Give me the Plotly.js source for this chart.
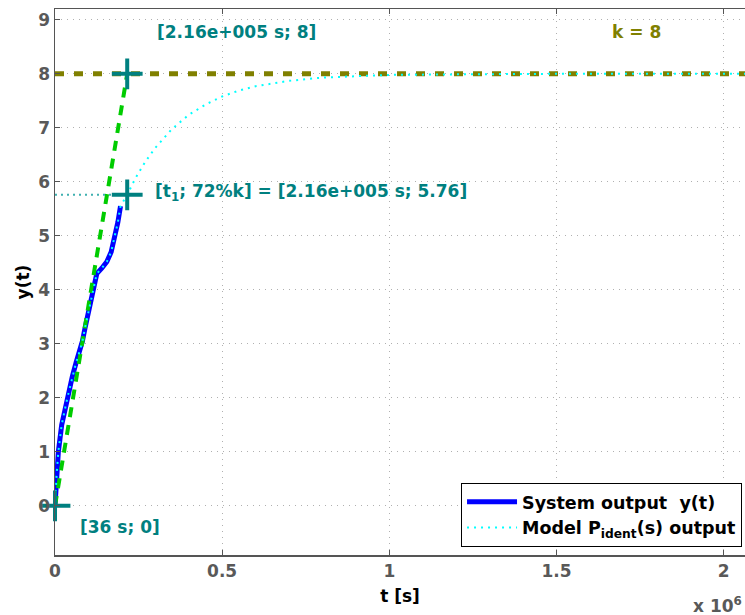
<!DOCTYPE html>
<html>
<head>
<meta charset="utf-8">
<script src="https://cdn.plot.ly/plotly-3.0.1.min.js"></script>
<style>html,body{margin:0;padding:0;background:#fff;}#plot{width:745px;height:615px;}</style>
</head>
<body>
<div id="plot"></div>
<script>
// Measured system output
const sysT = [0, 2000, 5000, 10000, 20000, 37000, 52000, 63000, 73000, 82000, 90000, 100000, 110000, 118000, 125000, 140000, 155000, 168000, 178000, 188000, 196000];
const sysY = [0, 0.3, 0.6, 1.0, 1.5, 2.0, 2.4, 2.65, 2.85, 3.05, 3.3, 3.6, 3.9, 4.15, 4.3, 4.4, 4.52, 4.7, 4.95, 5.25, 5.55];
// Identified model output
const modelT = [0, 2000, 5000, 10000, 20000, 37000, 52000, 63000, 73000, 82000, 90000, 100000, 110000, 118000, 125000, 140000, 155000, 168000, 178000, 188000, 196000, 216000, 240000, 270000, 300000, 350000, 400000, 450000, 500000, 550000, 600000, 700000, 800000, 900000, 1000000, 1200000, 1500000, 2100000];
const modelY = [0, 0.3, 0.6, 1.0, 1.5, 2.0, 2.4, 2.65, 2.85, 3.05, 3.3, 3.6, 3.9, 4.15, 4.3, 4.4, 4.52, 4.7, 4.95, 5.25, 5.55, 5.76, 6.06, 6.37, 6.63, 6.98, 7.24, 7.43, 7.58, 7.69, 7.77, 7.87, 7.93, 7.96, 7.98, 7.99, 8.0, 8.0];
// Tangent line and reference lines
const tangentT = [36, 216000];
const tangentY = [0, 8];
const kT = [0, 2100000];
const kY = [8, 8];
const t1LineT = [0, 216000];
const t1LineY = [5.76, 5.76];
// Characteristic points
const pointsT = [36, 216000, 216000];
const pointsY = [0, 8, 5.76];
// Axis ticks
const xTickVals = [0, 500000, 1000000, 1500000, 2000000];
const xTickText = ['0', '0.5', '1', '1.5', '2'];
const yTickVals = [0, 1, 2, 3, 4, 5, 6, 7, 8, 9];

const teal = '#008080';
const olive = '#808000';
const FAM = 'DejaVu Sans, Verdana, sans-serif';
const tickFont = {family: FAM, size: 17, color: '#595959', weight: 'bold'};

const traces = [
  {x: sysT, y: sysY, type: 'scatter', mode: 'lines', name: 'System output  y(t)',
   line: {color: '#0000ff', width: 5}},
  {x: tangentT, y: tangentY, type: 'scatter', mode: 'lines', showlegend: false,
   line: {color: '#00cc00', width: 4, dash: '10px,8px'}},
  {x: kT, y: kY, type: 'scatter', mode: 'lines', showlegend: false,
   line: {color: olive, width: 5, dash: '9px,10px'}},
  {x: t1LineT, y: t1LineY, type: 'scatter', mode: 'lines', showlegend: false,
   line: {color: '#3fb0b0', width: 2, dash: '2px,4px'}},
  {x: modelT, y: modelY, type: 'scatter', mode: 'lines', name: 'Model P<sub>ident</sub>(s) output',
   line: {color: '#00ffff', width: 2, dash: '2px,5px'}},
  {x: pointsT, y: pointsY, type: 'scatter', mode: 'markers', showlegend: false, cliponaxis: false,
   marker: {symbol: 'cross-thin-open', size: 22, color: teal, line: {color: teal, width: 4}}}
];

const annFont = {family: FAM, size: 17, color: teal, weight: 'bold'};

const layout = {
  width: 745, height: 615,
  margin: {l: 55, r: 0, t: 9, b: 60},
  paper_bgcolor: '#ffffff', plot_bgcolor: '#ffffff',
  showlegend: true,
  xaxis: {
    range: [0, 2064000], tickvals: xTickVals, ticktext: xTickText,
    tickfont: tickFont, ticks: 'inside', ticklen: 5, tickcolor: '#555',
    showline: true, linecolor: '#555', linewidth: 1.5, mirror: 'ticks',
    showgrid: true, gridcolor: '#b0b0b0', griddash: '1px,5px', gridwidth: 1,
    zeroline: false,
    title: {text: 't [s]', font: {family: FAM, size: 17, color: '#000', weight: 'bold'}, standoff: 10}
  },
  yaxis: {
    range: [-0.91, 9.2], tickvals: yTickVals,
    tickfont: tickFont, ticks: 'inside', ticklen: 5, tickcolor: '#555',
    showline: true, linecolor: '#555', linewidth: 1.5, mirror: false,
    showgrid: true, gridcolor: '#b0b0b0', griddash: '1px,5px', gridwidth: 1,
    zeroline: false,
    title: {text: 'y(t)', font: {family: FAM, size: 17, color: '#000', weight: 'bold'}, standoff: 4}
  },
  legend: {
    x: 0.9957, xanchor: 'right', y: 0.0147, yanchor: 'bottom',
    bgcolor: '#ffffff', bordercolor: '#000', borderwidth: 1,
    font: {family: FAM, size: 17.5, color: '#000', weight: 'bold'},
    itemwidth: 50, tracegroupgap: 0
  },
  annotations: [
    {x: 299000, y: 8.78, xref: 'x', yref: 'y', xanchor: 'left', yanchor: 'middle', showarrow: false,
     text: '[2.16e+005 s; 8]', font: annFont},
    {x: 1660000, y: 8.78, xref: 'x', yref: 'y', xanchor: 'left', yanchor: 'middle', showarrow: false,
     text: 'k = 8', font: Object.assign({}, annFont, {color: olive})},
    {x: 294000, y: 5.81, xref: 'x', yref: 'y', xanchor: 'left', yanchor: 'middle', showarrow: false,
     text: '[t<sub>1</sub>; 72%k] = [2.16e+005 s; 5.76]', font: annFont},
    {x: 69000, y: -0.39, xref: 'x', yref: 'y', xanchor: 'left', yanchor: 'middle', showarrow: false,
     text: '[36 s; 0]', font: annFont},
    {x: 0.9986, y: -0.092, xref: 'paper', yref: 'paper', xanchor: 'right', yanchor: 'middle', showarrow: false,
     text: 'x 10<sup>6</sup>', font: tickFont}
  ]
};

Plotly.newPlot('plot', traces, layout, {displayModeBar: false, staticPlot: true});
</script>
</body>
</html>
